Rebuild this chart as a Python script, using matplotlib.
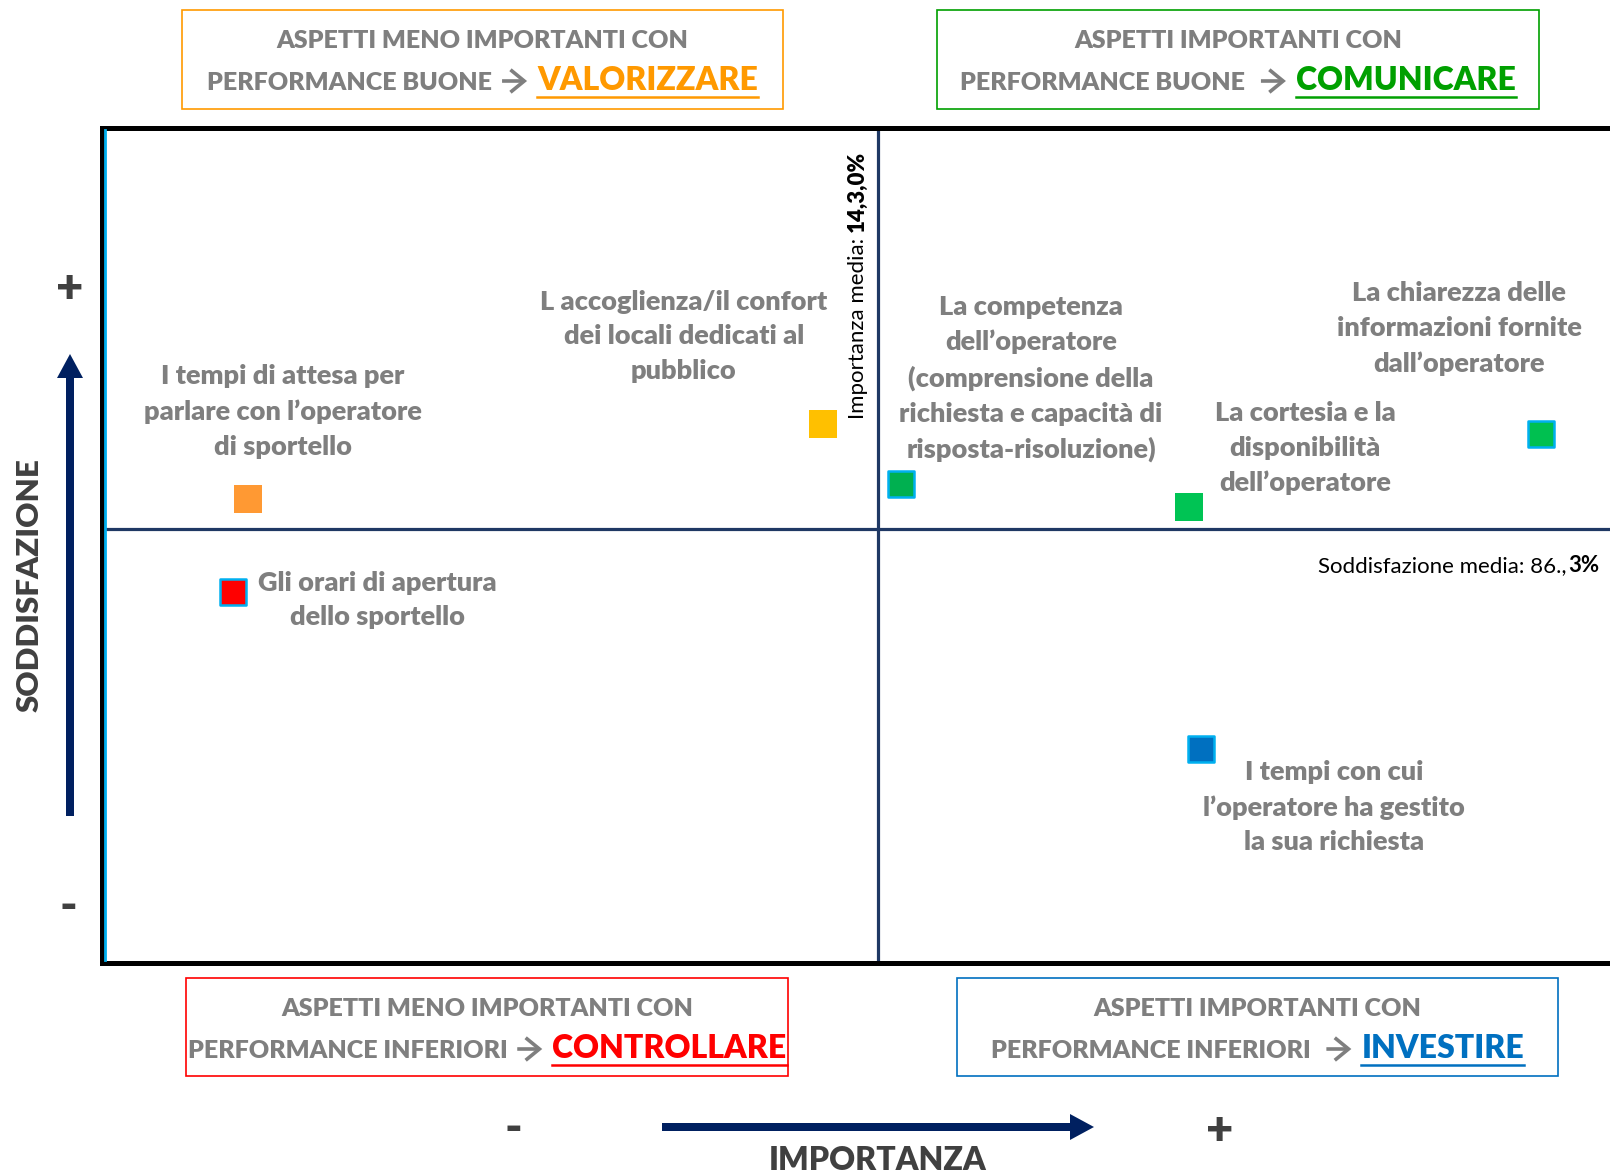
import matplotlib
matplotlib.use('Agg')
import matplotlib.pyplot as plt
from matplotlib.patches import Rectangle, FancyArrowPatch
from matplotlib.lines import Line2D

plt.rcParams['font.family'] = ['Lato', 'DejaVu Sans']

# dati: importanza (%) e soddisfazione (%) per aspetto
aspetti = [
    'I tempi di attesa per\nparlare con l\u2019operatore\ndi sportello',
    'L accoglienza/il confort\ndei locali dedicati al\npubblico',
    'La competenza\ndell\u2019operatore\n(comprensione della\nrichiesta e capacità di\nrisposta-risoluzione)',
    'La cortesia e la\ndisponibilità\ndell\u2019operatore',
    'La chiarezza delle\ninformazioni fornite\ndall\u2019operatore',
    'Gli orari di apertura\ndello sportello',
    'I tempi con cui\nl\u2019operatore ha gestito\nla sua richiesta',
]
importanza = [10.1, 13.93, 14.45, 16.37, 18.72, 10.0, 16.45]
soddisfazione = [87.5, 90.5, 88.1, 87.2, 90.1, 83.8, 77.5]
colori = ['#FF9933', '#FFC000', '#00B050', '#00C454', '#00C050', '#FF0000', '#0070C0']
bordi = [None, None, '#00B0F0', None, '#00B0F0', '#00B0F0', '#00B0F0']
# posizione etichette rispetto al punto (punti tipografici)
offset_etichette = [(25, 63), (-100, 63), (94, 76), (84, 42), (-59, 76), (104, -6), (96, -42)]

media_imp = 14.3
media_sod = 86.3

W, H = 1610, 1173
grigio = '#7F7F7F'
scuro = '#404040'
blu_scuro = '#002060'
peso = 'heavy'

fig = plt.figure(figsize=(W / 100, H / 100), dpi=100)

# grafico principale
ax = fig.add_axes([101.5 / W, 1 - 962.5 / H, (1630 - 101.5) / W, (962.5 - 127.5) / H])
ax.set_xlim(9.123, 19.313)
ax.set_ylim(68.96, 102.36)
ax.set_xticks([])
ax.set_yticks([])
for s in ax.spines.values():
    s.set_linewidth(3.6)
    s.set_color('black')
ax.axvline(media_imp, color='#1F3864', lw=2.3, zorder=1)
ax.axhline(media_sod, color='#1F3864', lw=2.3, zorder=1)

for x, y, c, b in zip(importanza, soddisfazione, colori, bordi):
    if b:
        ax.scatter(x, y, marker='s', s=330, color=c, edgecolors=b, linewidths=1.8, zorder=3)
    else:
        ax.scatter(x, y, marker='s', s=378, color=c, linewidths=0, zorder=3)

for x, y, lab, off in zip(importanza, soddisfazione, aspetti, offset_etichette):
    ax.annotate(lab, (x, y), xytext=off, textcoords='offset points', ha='center', va='center',
                fontsize=19.5, fontweight=peso, color=grigio, linespacing=1.53)

# livello sovrapposto in coordinate pixel
ov = fig.add_axes([0, 0, 1, 1], facecolor='none')
ov.set_xlim(0, W)
ov.set_ylim(H, 0)
ov.axis('off')

# linea azzurra interna a sinistra
ov.add_line(Line2D([105, 105], [130, 960], color='#00B0F0', lw=2))

r = fig.canvas.get_renderer()


def riquadro(x0, y0, x1, y1, colore, riga1, riga2, parola):
    ov.add_patch(Rectangle((x0, y0), x1 - x0, y1 - y0, fill=False, ec=colore, lw=1.2))
    cx = (x0 + x1) / 2
    yb = y0 + 80
    ov.text(cx, y0 + 38, riga1, ha='center', va='baseline', fontsize=18,
            fontweight=peso, color=grigio)
    t1 = ov.text(0, yb, riga2, ha='left', va='baseline', fontsize=18,
                 fontweight=peso, color=grigio)
    t2 = ov.text(0, yb, parola, ha='left', va='baseline', fontsize=23,
                 fontweight=peso, color=colore)
    gap, freccia = 10, 25
    w1 = t1.get_window_extent(r).width
    w2 = t2.get_window_extent(r).width
    x = cx - (w1 + w2 + freccia + 2 * gap) / 2
    t1.set_x(x)
    xa = x + w1 + gap
    ov.add_patch(FancyArrowPatch((xa, yb - 9), (xa + freccia, yb - 9),
                                 arrowstyle='->,head_length=0.55,head_width=0.45',
                                 mutation_scale=18, lw=2.6, color=grigio,
                                 shrinkA=0, shrinkB=0, capstyle='butt', joinstyle='miter'))
    xw = xa + freccia + gap
    t2.set_x(xw)
    ov.add_line(Line2D([xw, xw + w2], [y0 + 87, y0 + 87], color=colore, lw=1.8))


riquadro(182, 10, 783, 109, '#FF9900', 'ASPETTI MENO IMPORTANTI CON',
         'PERFORMANCE BUONE', 'VALORIZZARE')
riquadro(937, 10, 1539, 109, '#00A000', 'ASPETTI IMPORTANTI CON',
         'PERFORMANCE BUONE ', 'COMUNICARE')
riquadro(186, 978, 788, 1076, '#FF0000', 'ASPETTI MENO IMPORTANTI CON',
         'PERFORMANCE INFERIORI', 'CONTROLLARE')
riquadro(957, 978, 1558, 1076, '#0070C0', 'ASPETTI IMPORTANTI CON',
         'PERFORMANCE INFERIORI ', 'INVESTIRE')

# etichette delle medie
tv = ov.text(864, 419, 'Importanza media:', rotation=90, rotation_mode='anchor',
             ha='left', va='baseline', fontsize=16, color='black')
h = tv.get_window_extent(r).height
ov.text(864, 419 - h - 6, '14,3,0%', rotation=90, rotation_mode='anchor',
        ha='left', va='baseline', fontsize=16, fontweight=peso, color='black')

tb = ov.text(1599, 572, '3%', ha='right', va='baseline', fontsize=16,
             fontweight='bold', color='black')
wb = tb.get_window_extent(r).width
ov.text(1599 - wb - 1, 572, 'Soddisfazione media: 86.,', ha='right', va='baseline',
        fontsize=16, color='black')

# assi descrittivi
ov.arrow(70, 816, 0, -462, width=8, head_width=26, head_length=24,
         length_includes_head=True, color=blu_scuro, lw=0)
ov.text(70, 289, '+', ha='center', va='center', fontsize=34, fontweight=peso, color=scuro)
ov.text(68, 906, '-', ha='center', va='center', fontsize=34, fontweight=peso, color=scuro)
ov.text(30, 585, 'SODDISFAZIONE', rotation=90, ha='center', va='center',
        fontsize=22.5, fontweight=peso, color=scuro)

ov.arrow(662, 1127, 432, 0, width=8, head_width=26, head_length=24,
         length_includes_head=True, color=blu_scuro, lw=0)
ov.text(513, 1128, '-', ha='center', va='center', fontsize=34, fontweight=peso, color=scuro)
ov.text(1220, 1131, '+', ha='center', va='center', fontsize=34, fontweight=peso, color=scuro)
ov.text(878, 1160, 'IMPORTANZA', ha='center', va='center', fontsize=23,
        fontweight=peso, color=scuro)

fig.savefig('out.png', dpi=100)
